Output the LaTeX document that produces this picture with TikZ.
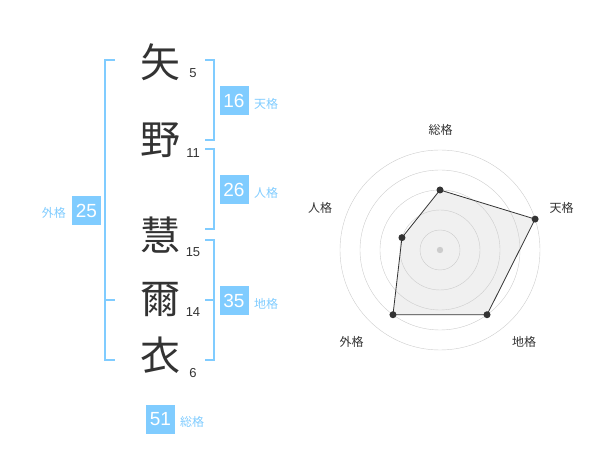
\documentclass[tikz,border=0pt]{standalone}
\usepackage{fontspec}
\setmainfont{Liberation Sans}
\newfontfamily\jpfont{Noto Sans CJK JP}
\usetikzlibrary{positioning}
\definecolor{kakublue}{HTML}{80CCFF}
\definecolor{inkgray}{HTML}{333333}
\definecolor{ringgray}{HTML}{CCCCCC}
\definecolor{areagray}{HTML}{F0F0F0}

\begin{document}
\begin{tikzpicture}[x=1pt,y=-1pt,
                    kanji/.style={font=\jpfont\fontsize{40}{40}\selectfont,text=inkgray,inner sep=0pt},
                    strokes/.style={font=\fontsize{13}{13}\selectfont,text=inkgray,inner sep=0pt},
                    kakubox/.style={fill=kakublue,text=white,font=\fontsize{19}{19}\selectfont,
                                    minimum width=29pt,minimum height=29pt,inner sep=0pt},
                    kakuname/.style={font=\jpfont\fontsize{12}{12}\selectfont,text=kakublue,inner sep=0pt},
                    bracket/.style={draw=kakublue,line width=2pt}]
  \tikzstyle{axisname}=[font=\jpfont\fontsize{12}{12}\selectfont,text=inkgray,inner sep=0pt]
  \tikzstyle{dot}=[fill=inkgray,draw=none]

  \useasboundingbox (0,0) rectangle (600,470);

  % name characters
  \node[kanji] (K1) at (160,62)  {矢};
  \node[kanji] (K2) at (160,140) {野};
  \node[kanji] (K3) at (160,235) {慧};
  \node[kanji] (K4) at (160,300) {爾};
  \node[kanji] (K5) at (160,355) {衣};

  \node[strokes] (S1) at (193,73)  {5};
  \node[strokes] (S2) at (193,153) {11};
  \node[strokes] (S3) at (193,252) {15};
  \node[strokes] (S4) at (193,312) {14};
  \node[strokes] (S5) at (193,373) {6};

  % brackets
  \draw[bracket] (115,60) -- (105,60) -- (105,360) -- (115,360)
                 (105,300) -- (115,300);
  \draw[bracket] (205,60) -- (214,60) -- (214,140) -- (205,140);
  \draw[bracket] (205,149) -- (214,149) -- (214,229) -- (205,229);
  \draw[bracket] (205,240) -- (214,240) -- (214,360) -- (205,360)
                 (205,300) -- (214,300);

  % scores
  \node[kakubox] (ten)   at (234,100.5) {16};
  \node[kakuname,anchor=west] (tenN)   at (254,104) {天格};
  \node[kakubox] (jin)   at (234,190)   {26};
  \node[kakuname,anchor=west] (jinN)   at (254,193) {人格};
  \node[kakubox] (gai)   at (86.5,210.5) {25};
  \node[kakuname,anchor=east] (gaiN)   at (66,213)  {外格};
  \node[kakubox] (chi)   at (234,300.5) {35};
  \node[kakuname,anchor=west] (chiN)   at (254,304) {地格};
  \node[kakubox] (sou)   at (160.5,419) {51};
  \node[kakuname,anchor=west] (souN)   at (180,422) {総格};

  % radar chart
  \begin{scope}[shift={(440,250)},y=1pt]
    \coordinate (pSou) at (90:60);
    \coordinate (pTen) at (18:100);
    \coordinate (pChi) at (-54:80);
    \coordinate (pGai) at (-126:80);
    \coordinate (pJin) at (162:40);

    \fill[areagray] (pSou) -- (pTen) -- (pChi) -- (pGai) -- (pJin) -- cycle;
    \foreach \r in {20,40,60,80,100}
      \draw[ringgray,thin] (0,0) circle (\r);
    \fill[ringgray] (0,0) circle (3.2);

    \draw[inkgray,line width=0.8pt]
      (pSou) -- (pTen) -- (pChi) -- (pGai) -- (pJin) -- cycle;
    \foreach \p in {pSou,pTen,pChi,pGai,pJin}
      \fill[dot] (\p) circle (3.5);

    \node[axisname] (aSou) at (0.7,120)    {総格};
    \node[axisname] (aTen) at (121.7,42)   {天格};
    \node[axisname] (aChi) at (84,-91.7)   {地格};
    \node[axisname] (aGai) at (-88.3,-91.7) {外格};
    \node[axisname] (aJin) at (-120,42)    {人格};
  \end{scope}
\end{tikzpicture}
\end{document}
